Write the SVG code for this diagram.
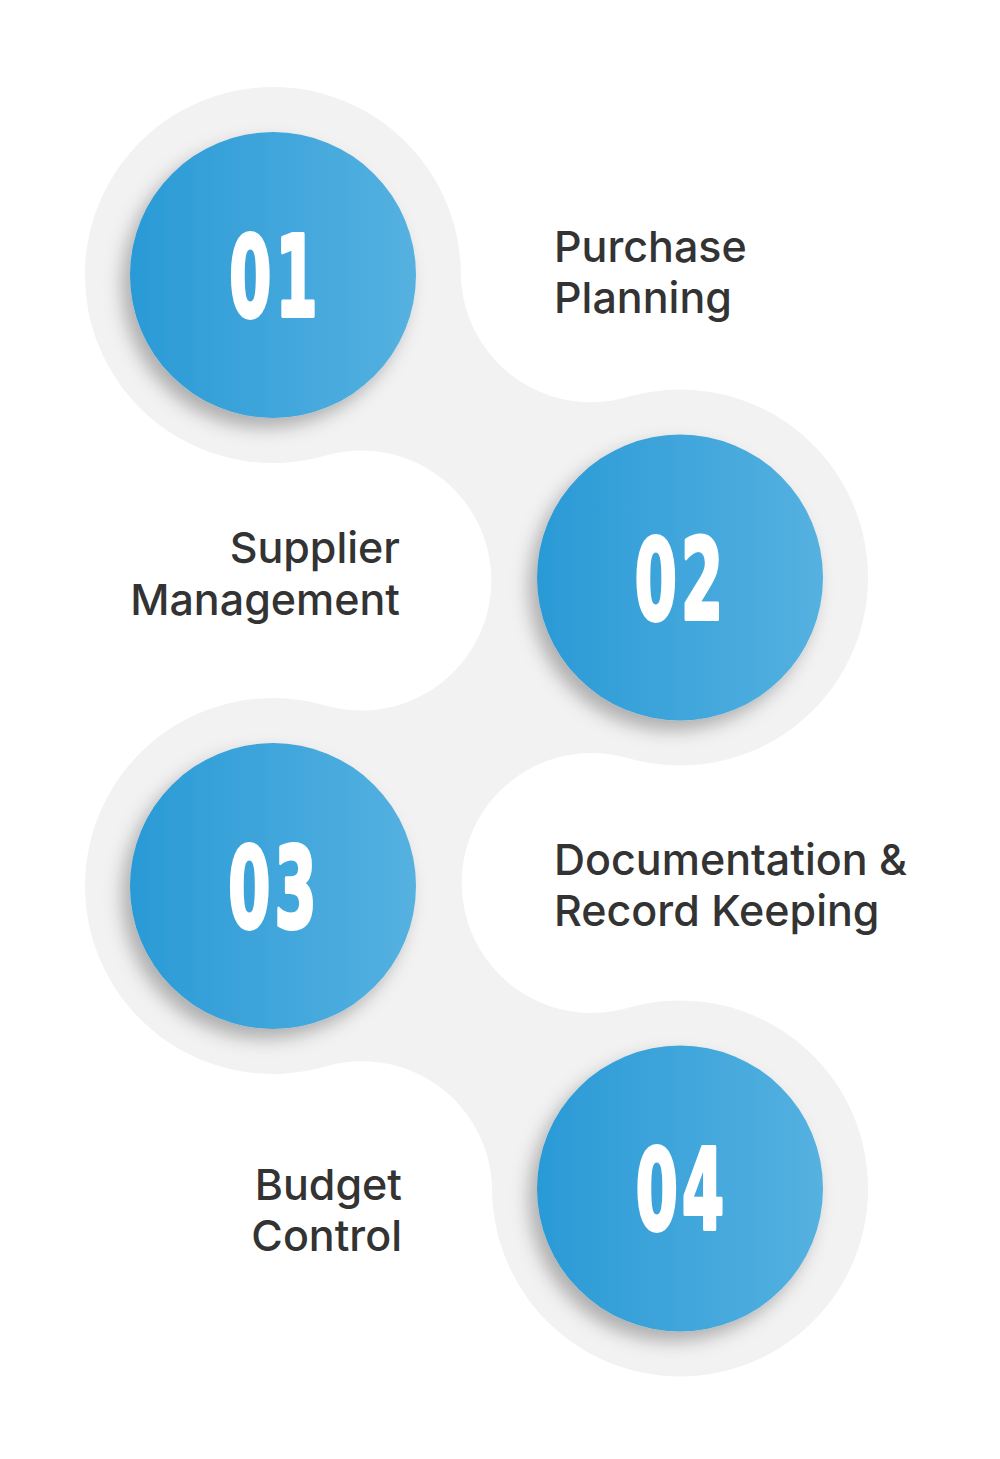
<svg xmlns="http://www.w3.org/2000/svg" width="1000" height="1459" viewBox="0 0 1000 1459">
  <defs>
    <linearGradient id="blue" x1="0" y1="0" x2="1" y2="0">
      <stop offset="0" stop-color="#2a9ad6"/>
      <stop offset="1" stop-color="#55b1e0"/>
    </linearGradient>
    <filter id="shadow" x="-30%" y="-30%" width="160%" height="160%">
      <feDropShadow dx="-8" dy="10" stdDeviation="9" flood-color="#000" flood-opacity="0.28"/>
    </filter>
  </defs>
  <style>
    .disc { fill: url(#blue); filter: url(#shadow); }
    .num { fill: #ffffff; stroke: #ffffff; stroke-width: 4; stroke-linejoin: round; font-family: "Liberation Sans Narrow", "DejaVu Sans Condensed", "Liberation Sans", sans-serif; font-weight: 700; font-size: 112px; letter-spacing: 7px; text-anchor: middle; }
    .label { fill: #333333; font-family: Inter, "Noto Sans", "Liberation Sans", sans-serif; font-weight: 500; font-size: 43px; }
    .end { text-anchor: end; }
  </style>
  <rect width="1000" height="1459" fill="#ffffff"/>
  <g id="connectors">
    <path fill="#f2f2f2" d="M 460.88 273.23 A 130 130 0 0 0 627.42 397.0 A 188 188 0 1 1 627.42 758.0 A 130 130 0 1 0 627.42 1008.0 A 188 188 0 1 1 492.12 1190.27 A 130 130 0 0 0 325.58 1066.5 A 188 188 0 1 1 325.58 705.5 A 130 130 0 1 0 325.58 455.5 A 188 188 0 1 1 460.88 273.23 Z"/>
  </g>
  <g id="node-01">
    <circle class="disc" cx="273" cy="275" r="143"/>
    <text class="num" transform="translate(275.5,316) scale(0.6,1)">01</text>
    <text class="label" x="554" y="262">Purchase</text>
    <text class="label" x="554" y="313">Planning</text>
  </g>
  <g id="node-02">
    <circle class="disc" cx="680" cy="577.5" r="143"/>
    <text class="num" transform="translate(681,619) scale(0.6,1)">02</text>
    <text class="label end" x="400" y="563">Supplier</text>
    <text class="label end" x="400" y="615">Management</text>
  </g>
  <g id="node-03">
    <circle class="disc" cx="273" cy="886" r="143"/>
    <text class="num" transform="translate(274.5,927) scale(0.6,1)">03</text>
    <text class="label" x="554" y="875">Documentation &amp;</text>
    <text class="label" x="554" y="926">Record Keeping</text>
  </g>
  <g id="node-04">
    <circle class="disc" cx="680" cy="1188.5" r="143"/>
    <text class="num" transform="translate(682,1229) scale(0.6,1)">04</text>
    <text class="label end" x="402" y="1200">Budget</text>
    <text class="label end" x="402" y="1251">Control</text>
  </g>
</svg>
